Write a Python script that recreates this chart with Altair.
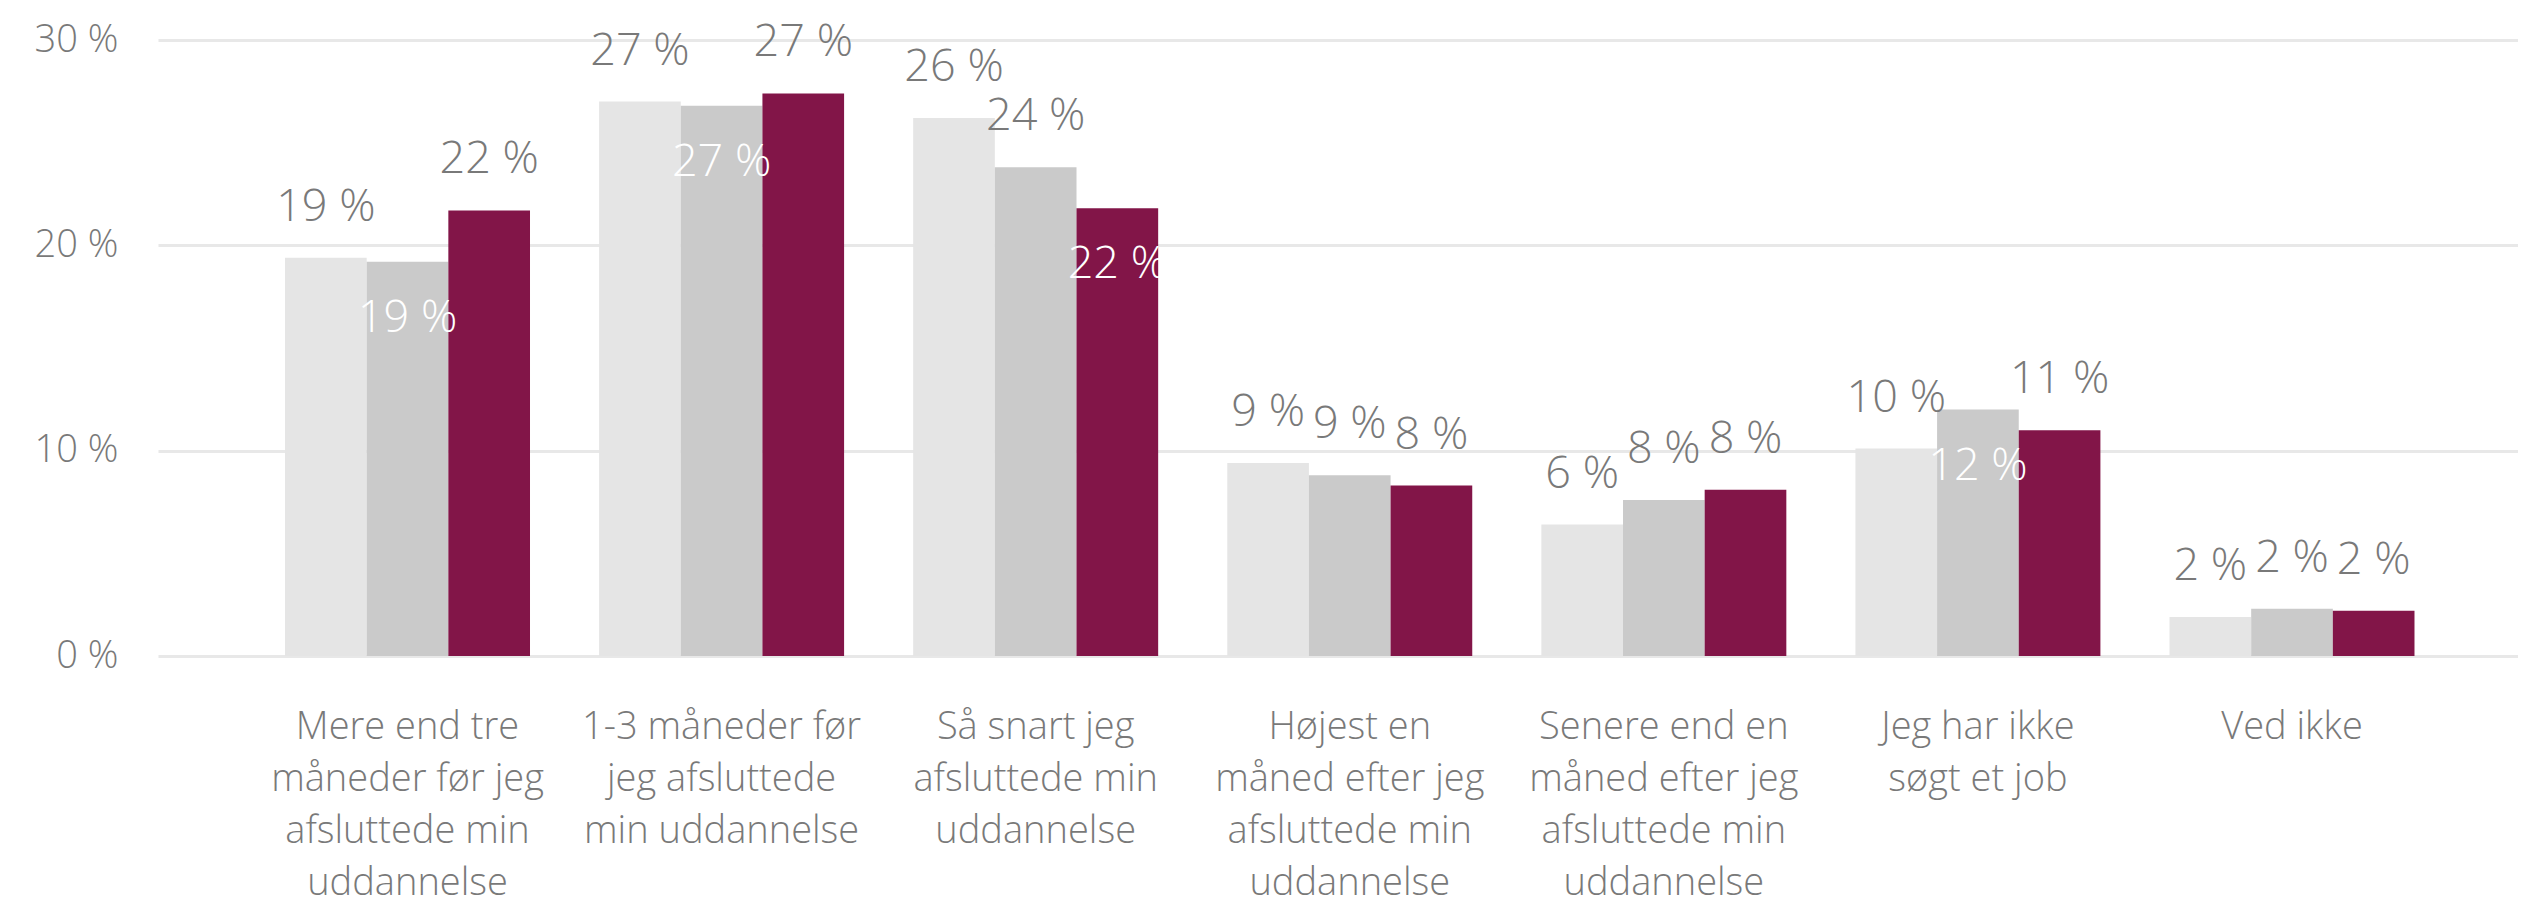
import altair as alt
import pandas as pd

# ---- data ----
categories = [
    "Mere end tre\nmåneder før jeg\nafsluttede min\nuddannelse",
    "1-3 måneder før\njeg afsluttede\nmin uddannelse",
    "Så snart jeg\nafsluttede min\nuddannelse",
    "Højest en\nmåned efter jeg\nafsluttede min\nuddannelse",
    "Senere end en\nmåned efter jeg\nafsluttede min\nuddannelse",
    "Jeg har ikke\nsøgt et job",
    "Ved ikke",
]
series = ["Serie 1", "Serie 2", "Serie 3"]
serie1 = [19.4, 27.0, 26.2, 9.4, 6.4, 10.1, 1.9]
serie2 = [19.2, 26.8, 23.8, 8.8, 7.6, 12.0, 2.3]
serie3 = [21.7, 27.4, 21.8, 8.3, 8.1, 11.0, 2.2]
# labels drawn in white inside the bar (as in the reference)
inside1 = [False, False, False, False, False, False, False]
inside2 = [True, True, False, False, False, True, False]
inside3 = [False, False, True, False, False, False, False]
colors = ["#E5E5E5", "#CACACA", "#821548"]

rows = []
for s, vals, ins in zip(series, [serie1, serie2, serie3], [inside1, inside2, inside3]):
    for c, v, i in zip(categories, vals, ins):
        rows.append({"kategori": c, "serie": s, "værdi": v, "inde": i})
df = pd.DataFrame(rows)

FONT = "Open Sans"
GRAY = "#797979"

x_enc = alt.X(
    "kategori:N",
    sort=categories,
    scale=alt.Scale(paddingInner=0.22, paddingOuter=0.367, align=0.551),
    axis=alt.Axis(
        title=None,
        labelAngle=0,
        labelExpr="split(datum.label, '\\n')",
        labelFont=FONT,
        labelFontWeight=300,
        labelFontSize=38,
        labelLineHeight=52,
        labelColor=GRAY,
        labelBaseline="top",
        labelPadding=52,
        labelLimit=400,
        ticks=False,
        domain=False,
        grid=False,
    ),
)
xo_enc = alt.XOffset("serie:N", sort=series, scale=alt.Scale(paddingInner=0, paddingOuter=0))
y_scale = alt.Scale(domain=[0, 30], nice=False)

base = alt.Chart(df)

bars = base.mark_bar().encode(
    x=x_enc,
    xOffset=xo_enc,
    y=alt.Y(
        "værdi:Q",
        scale=y_scale,
        axis=alt.Axis(
            title=None,
            values=[0, 10, 20, 30],
            labelExpr="datum.value + ' %'",
            labelFont=FONT,
            labelFontWeight=300,
            labelFontSize=38,
            labelColor=GRAY,
            labelPadding=40,
            ticks=False,
            domain=False,
            gridColor="#E8E8E8",
            gridWidth=3,
        ),
    ),
    color=alt.Color("serie:N", sort=series,
                    scale=alt.Scale(domain=series, range=colors), legend=None),
)

label_text = "format(datum['værdi'], '.0f') + ' %'"

outside = base.transform_filter("!datum.inde").transform_calculate(
    tekst=label_text
).mark_text(
    font=FONT, fontWeight=300, fontSize=45, color=GRAY, baseline="middle", dy=-51
).encode(
    x=alt.X("kategori:N", sort=categories),
    xOffset=alt.XOffset("serie:N", sort=series),
    y=alt.Y("værdi:Q", scale=y_scale),
    text="tekst:N",
)

inside = base.transform_filter("datum.inde").transform_calculate(
    tekst=label_text
).mark_text(
    font=FONT, fontWeight=300, fontSize=45, color="#FFFFFF", baseline="middle", dy=56
).encode(
    x=alt.X("kategori:N", sort=categories),
    xOffset=alt.XOffset("serie:N", sort=series),
    y=alt.Y("værdi:Q", scale=y_scale),
    text="tekst:N",
)

chart = alt.layer(bars, outside, inside).properties(
    width=2360,
    height=616,
    autosize=alt.AutoSizeParams(type="none"),
    padding={"left": 150, "top": 32, "right": 0, "bottom": 250},
    background="white",
).configure_view(stroke=None)

chart.save("out.html", embed_options={"renderer": "svg", "actions": False})
